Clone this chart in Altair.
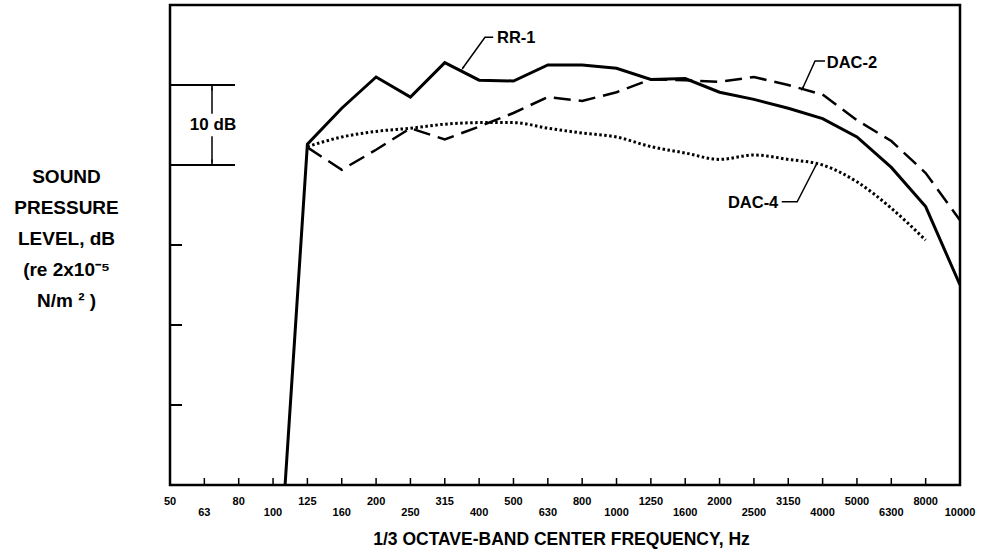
import altair as alt
import pandas as pd

# ---------------- data ----------------
freq_labels = ["50", "63", "80", "100", "125", "160", "200", "250", "315", "400", "500",
               "630", "800", "1000", "1250", "1600", "2000", "2500", "3150", "4000",
               "5000", "6300", "8000", "10000"]

rr1_idx = list(range(3, 24))
rr1_db = [-23, 42.6, 47.1, 51.0, 48.5, 52.8, 50.6, 50.5, 52.5, 52.5, 52.1, 50.7, 50.8,
          49.1, 48.2, 47.1, 45.8, 43.5, 39.7, 34.8, 25.0]

dac2_idx = list(range(4, 24))
dac2_db = [42.2, 39.4, 41.9, 44.6, 43.2, 44.8, 46.5, 48.5, 48.0, 49.1, 50.7, 50.6, 50.4,
           51.0, 50.0, 48.8, 45.6, 43.0, 39.0, 33.1]

dac4_idx = list(range(4, 23))
dac4_db = [42.3, 43.5, 44.2, 44.6, 45.1, 45.3, 45.3, 44.6, 44.0, 43.5, 42.3, 41.5, 40.7,
           41.25, 40.7, 40.0, 37.9, 34.6, 30.6]

bottom_tick_idx = list(range(1, 23))
left_tick_db = [10, 20, 30]
bracket_db = [40, 50]

# annotation leaders (series label, index position, dB position, order)
leader_name = ["RR-1", "RR-1", "RR-1", "DAC-2", "DAC-2", "DAC-2", "DAC-4", "DAC-4", "DAC-4"]
leader_idx = [9.41, 9.17, 8.52, 19.07, 18.78, 18.42, 17.81, 18.26, 18.81]
leader_db = [55.96, 55.96, 52.09, 53.0, 53.0, 49.59, 35.41, 35.41, 40.0]
leader_ord = [0, 1, 2, 0, 1, 2, 0, 1, 2]

arrow_idx = [8.52, 18.42, 18.81]
arrow_db = [52.09, 49.59, 40.0]
arrow_ang = [216, 204, 28]

label_left_text = ["RR-1", "DAC-2"]
label_left_idx = [9.52, 19.12]
label_left_db = [55.9, 52.7]
label_right_text = ["DAC-4"]
label_right_idx = [17.71]
label_right_db = [35.2]

# ---------------- build ----------------
FONT = "Liberation Sans"

series = pd.concat([
    pd.DataFrame({"idx": rr1_idx, "db": rr1_db, "s": "RR-1"}),
    pd.DataFrame({"idx": dac2_idx, "db": dac2_db, "s": "DAC-2"}),
    pd.DataFrame({"idx": dac4_idx, "db": dac4_db, "s": "DAC-4"}),
])

xs = alt.Scale(domain=[0, 23], nice=False, zero=False)
ys = alt.Scale(domain=[0, 60], nice=False, zero=False)

x_axis = alt.Axis(
    labels=False, ticks=False, domain=False, grid=False,
    title="1/3 OCTAVE-BAND CENTER FREQUENCY, Hz", titleFont=FONT, titleFontSize=17.5,
    titleFontWeight="bold", titleColor="black", titleX=391, titleY=59,
    titleBaseline="alphabetic", titleAlign="center",
)
y_axis = alt.Axis(
    title=["SOUND", "PRESSURE", "LEVEL, dB", "(re 2x10⁻⁵", "N/m ² )"],
    titleAngle=0, titleAlign="center", titleBaseline="top", titleX=-104, titleY=162,
    titleFont=FONT, titleFontSize=19, titleFontWeight="bold", titleColor="black",
    titleLineHeight=31, labels=False, ticks=False, domain=False, grid=False,
)

X = alt.X("idx:Q", scale=xs)
Y = alt.Y("db:Q", scale=ys)

base = alt.Chart(series)

rr1 = base.transform_filter("datum.s == 'RR-1'").mark_line(
    color="black", strokeWidth=3, clip=True
).encode(x=alt.X("idx:Q", scale=xs, axis=x_axis), y=alt.Y("db:Q", scale=ys, axis=y_axis))

dac2 = base.transform_filter("datum.s == 'DAC-2'").mark_line(
    color="black", strokeWidth=2.5, strokeDash=[17, 8]
).encode(x=X, y=Y)

dac4 = base.transform_filter("datum.s == 'DAC-4'").mark_line(
    color="black", strokeWidth=3, strokeDash=[2.5, 2.5], interpolate="monotone"
).encode(x=X, y=Y)

bticks = alt.Chart(pd.DataFrame({"idx": bottom_tick_idx})).mark_rule(
    color="black", strokeWidth=1.5
).encode(x=X, y=alt.value(480), y2=alt.value(473))

# staggered frequency labels
freq_df = pd.DataFrame({"idx": list(range(len(freq_labels))), "lab": freq_labels})
lab_style = dict(font=FONT, fontSize=11, fontWeight="bold", color="black",
                 align="center", baseline="top")
flabels_hi = alt.Chart(freq_df).transform_filter("datum.idx % 2 == 0").mark_text(
    **lab_style).encode(x=X, y=alt.value(491), text="lab:N")
flabels_lo = alt.Chart(freq_df).transform_filter("datum.idx % 2 == 1").mark_text(
    **lab_style).encode(x=X, y=alt.value(502), text="lab:N")

lticks = alt.Chart(pd.DataFrame({"db": left_tick_db})).mark_rule(
    color="black", strokeWidth=2
).encode(y=Y, x=alt.value(0), x2=alt.value(12))

brackets = alt.Chart(pd.DataFrame({"db": bracket_db})).mark_rule(
    color="black", strokeWidth=2
).encode(y=Y, x=alt.value(0), x2=alt.value(65))

bar_seg = alt.Chart(pd.DataFrame({"db": [50, 43.6], "b": [46.4, 40]})).mark_rule(
    color="black", strokeWidth=1.5
).encode(y=Y, y2="b:Q", x=alt.value(42))

bar_heads = alt.Chart(pd.DataFrame({"db": [49.55, 40.45], "ang": [0, 180]})).mark_point(
    shape="wedge", filled=True, color="black", size=45, opacity=1
).encode(y=Y, x=alt.value(42), angle=alt.Angle("ang:Q", scale=None))

tendb = alt.Chart(pd.DataFrame({"db": [45], "t": ["10 dB"]})).mark_text(
    font=FONT, fontSize=17, fontWeight="bold", color="black", align="center", baseline="middle"
).encode(y=Y, x=alt.value(43), text="t:N")

leaders = alt.Chart(pd.DataFrame({"g": leader_name, "idx": leader_idx, "db": leader_db, "o": leader_ord})).mark_line(
    color="black", strokeWidth=1.5
).encode(x=X, y=Y, detail="g:N", order="o:Q")

heads = alt.Chart(pd.DataFrame({"idx": arrow_idx, "db": arrow_db, "ang": arrow_ang})).mark_point(
    shape="wedge", filled=True, color="black", size=45, opacity=1
).encode(x=X, y=Y, angle=alt.Angle("ang:Q", scale=None))

lab_left = alt.Chart(pd.DataFrame({"t": label_left_text, "idx": label_left_idx, "db": label_left_db})).mark_text(
    font=FONT, fontSize=16.5, fontWeight="bold", color="black", align="left", baseline="middle"
).encode(x=X, y=Y, text="t:N")

lab_right = alt.Chart(pd.DataFrame({"t": label_right_text, "idx": label_right_idx, "db": label_right_db})).mark_text(
    font=FONT, fontSize=16.5, fontWeight="bold", color="black", align="right", baseline="middle"
).encode(x=X, y=Y, text="t:N")

chart = alt.layer(
    rr1, dac2, dac4, bticks, flabels_hi, flabels_lo, lticks, brackets, bar_seg, bar_heads,
    tendb, leaders, heads, lab_left, lab_right
).properties(
    width=790, height=480, autosize="none",
    padding={"left": 170, "top": 5, "right": 32, "bottom": 66},
    background="white",
).configure_view(stroke="black", strokeWidth=2.5)

chart.save("out.html", embed_options={"renderer": "svg", "actions": False})
